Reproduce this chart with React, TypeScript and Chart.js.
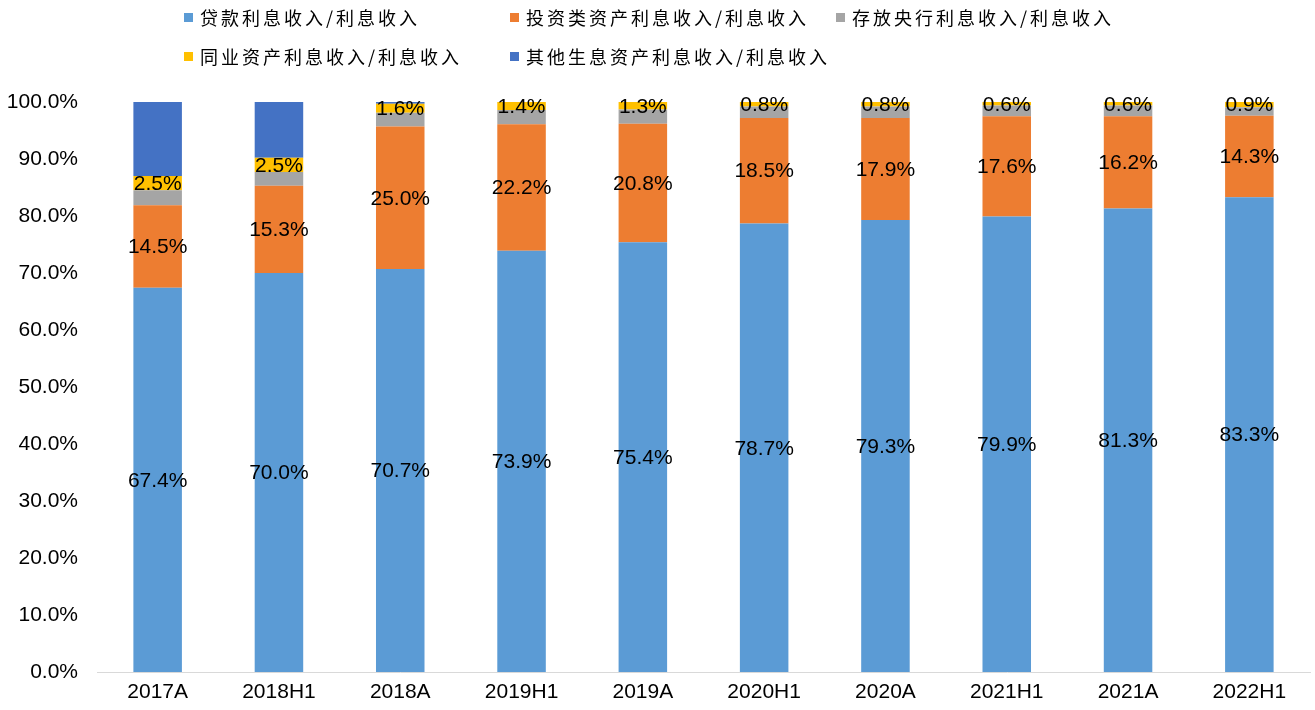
import React, { useEffect, useRef } from "react";
import { Chart, registerables } from "chart.js";

Chart.register(...registerables);

const categories = ["2017A", "2018H1", "2018A", "2019H1", "2019A", "2020H1", "2020A", "2021H1", "2021A", "2022H1"];
const loans = [67.4, 70.0, 70.7, 73.9, 75.4, 78.7, 79.3, 79.9, 81.3, 83.3];
const investment = [14.5, 15.3, 25.0, 22.2, 20.8, 18.5, 17.9, 17.6, 16.2, 14.3];
const centralBank = [2.6, 2.4, 2.4, 2.5, 2.5, 2.0, 2.0, 1.9, 1.9, 1.5];
const interbank = [2.5, 2.5, 1.6, 1.4, 1.3, 0.8, 0.8, 0.6, 0.6, 0.9];
const otherAssets = [13.0, 9.8, 0.3, 0, 0, 0, 0, 0, 0, 0];
const yTicks = [0, 10, 20, 30, 40, 50, 60, 70, 80, 90, 100];

const seriesNames = [
  "贷款利息收入/利息收入",
  "投资类资产利息收入/利息收入",
  "存放央行利息收入/利息收入",
  "同业资产利息收入/利息收入",
  "其他生息资产利息收入/利息收入",
];
const seriesColors = ["#5B9BD5", "#ED7D31", "#A5A5A5", "#FFC000", "#4472C4"];
const labelledSeries = [0, 1, 3];

const legendPos = [
  { left: 184, top: 17 },
  { left: 510, top: 17 },
  { left: 836, top: 17 },
  { left: 184, top: 56 },
  { left: 510, top: 56 },
];

const FONT = "'Liberation Sans', Arial, sans-serif";

const labelPlugin = {
  id: "segLabels",
  afterDatasetsDraw(chart: any) {
    const ctx = chart.ctx;
    ctx.save();
    ctx.font = `21px ${FONT}`;
    ctx.fillStyle = "#000";
    ctx.textAlign = "center";
    ctx.textBaseline = "middle";
    labelledSeries.forEach((di) => {
      const meta = chart.getDatasetMeta(di);
      const data = chart.data.datasets[di].data as number[];
      meta.data.forEach((bar: any, j: number) => {
        const v = data[j];
        if (!v) return;
        const { x, y, base } = bar.getProps(["x", "y", "base"], true);
        ctx.fillText(v.toFixed(1) + "%", x, (y + base) / 2 + 1);
      });
    });
    ctx.restore();
  },
};

export default function App() {
  const ref = useRef<HTMLCanvasElement>(null);
  useEffect(() => {
    if (!ref.current) return;
    const all = [loans, investment, centralBank, interbank, otherAssets];
    const chart = new Chart(ref.current, {
      type: "bar",
      data: {
        labels: categories,
        datasets: all.map((d, i) => ({
          label: seriesNames[i],
          data: d,
          backgroundColor: seriesColors[i],
          borderWidth: 0,
          barPercentage: 0.4,
          categoryPercentage: 1,
        })),
      },
      options: {
        responsive: false,
        animation: false,
        layout: { padding: { top: 102, left: 7, right: 5, bottom: 0 } },
        plugins: { legend: { display: false }, tooltip: { enabled: false } },
        scales: {
          x: {
            stacked: true,
            grid: { display: false, drawTicks: false },
            border: { display: true, color: "#D9D9D9", width: 1 },
            ticks: { color: "#000", font: { size: 21, family: FONT }, padding: 8, maxRotation: 0 },
            afterFit: (s: any) => {
              s.height = 38;
            },
          },
          y: {
            stacked: true,
            min: 0,
            max: 100,
            grid: { display: false, drawTicks: false },
            border: { display: false },
            afterBuildTicks: (s: any) => {
              s.ticks = yTicks.map((v) => ({ value: v }));
            },
            ticks: {
              color: "#000",
              font: { size: 21, family: FONT },
              padding: 19,
              callback: (v: any) => Number(v).toFixed(1) + "%",
            },
            afterFit: (s: any) => {
              s.width = 90;
            },
          },
        },
      },
      plugins: [labelPlugin],
    });
    return () => chart.destroy();
  }, []);

  return (
    <div style={{ position: "absolute", left: 0, top: 0, width: 1315, height: 710, background: "#fff" }}>
      <canvas ref={ref} width={1315} height={710} style={{ display: "block" }} />
      {seriesNames.map((n, i) => (
        <div
          key={n}
          style={{
            position: "absolute",
            left: legendPos[i].left,
            top: legendPos[i].top - 12,
            height: 24,
            display: "flex",
            alignItems: "center",
            whiteSpace: "nowrap",
            fontFamily: "'Noto Sans CJK SC', sans-serif",
            fontSize: 18,
            letterSpacing: 3,
            color: "#000",
          }}
        >
          <span style={{ display: "inline-block", width: 9, height: 9, background: seriesColors[i], marginRight: 7 }} />
          <span>{n}</span>
        </div>
      ))}
    </div>
  );
}
